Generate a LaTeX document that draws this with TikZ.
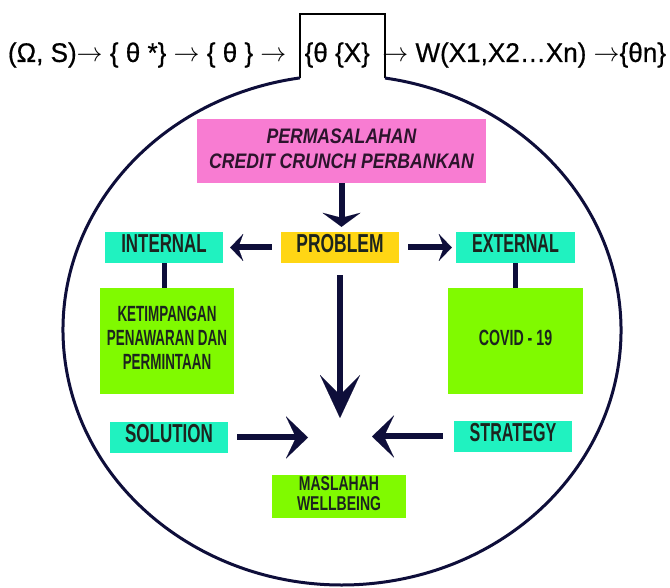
\documentclass[tikz,border=0pt]{standalone}
\usepackage{fontspec}
\setmainfont{Liberation Sans}
\newfontfamily\formulafont[FakeBold=0.6]{Liberation Sans}
\usepackage{graphicx}
\usetikzlibrary{arrows.meta}
\definecolor{navy}{RGB}{14,14,58}
\definecolor{pinkbox}{RGB}{248,124,210}
\definecolor{yelbox}{RGB}{255,214,20}
\definecolor{tealbox}{RGB}{32,242,192}
\definecolor{limebox}{RGB}{128,250,0}
\definecolor{txtdark}{RGB}{28,36,30}
\definecolor{txtpink}{RGB}{44,20,44}
\newcommand{\bxtext}[4]{\scalebox{#1}[1]{\fontsize{#2}{#3}\selectfont\bfseries\begin{tabular}{@{}c@{}}#4\end{tabular}}}
\begin{document}
\begin{tikzpicture}[x=1pt,y=1pt,
  cbox/.style={inner sep=0pt, text=txtdark},
  arrSm/.style={draw=navy, line width=6pt, -{Stealth[length=13pt,width=27pt,inset=5pt,line width=0.01pt]}},
  arrW/.style={draw=navy, line width=6pt, -{Stealth[length=14pt,width=38pt,inset=5pt,line width=0.01pt]}},
  arrM/.style={draw=navy, line width=6pt, -{Stealth[length=22pt,width=42pt,inset=10pt,line width=0.01pt]}},
  arrB/.style={draw=navy, line width=6pt, -{Stealth[length=43pt,width=40pt,inset=20pt,line width=0.01pt]}},
  link/.style={draw=navy, line width=5pt}]
\useasboundingbox (0,0) rectangle (670,587);
\fill[white] (0,0) rectangle (670,587);

% top formula
\node[inner sep=0pt] (formula) at (337,532) {\resizebox{658pt}{19.5pt}{\formulafont\fontsize{25}{25}\selectfont (Ω, S)$\rightarrow$ \{ θ *\} $\rightarrow$ \{ θ \} $\rightarrow$\hspace{0.7em}\{θ \{X\}\hspace{0.2em} $\rightarrow$ W(X1,X2…Xn) $\rightarrow$\{θn\}}};

% neck and bulb
\draw[black, line width=1.5pt] (300,509) -- (300,573) -- (385,573) -- (385,509);
\draw[navy, line width=3pt] (300,509.1) arc[start angle=98.66, end angle=441.13, x radius=279, y radius=255];

% boxes
\node[cbox, fill=pinkbox, text=txtpink, minimum width=289pt, minimum height=64pt] (pink) at (341.5,436)
  {\scalebox{0.84}[1]{\fontsize{21}{25}\selectfont\bfseries\itshape\begin{tabular}{@{}c@{}}PERMASALAHAN\\CREDIT CRUNCH PERBANKAN\end{tabular}}};
\node[cbox, fill=yelbox, minimum width=118pt, minimum height=31pt] (problem) at (340,339.5) {\bxtext{0.67}{26}{26}{PROBLEM}};
\node[cbox, fill=tealbox, minimum width=118pt, minimum height=31pt] (internal) at (164,339.5) {\bxtext{0.65}{26}{26}{INTERNAL}};
\node[cbox, fill=tealbox, minimum width=119pt, minimum height=31pt] (external) at (515.5,339.5) {\bxtext{0.62}{26}{26}{EXTERNAL}};
\node[cbox, fill=limebox, minimum width=134pt, minimum height=106pt] (ket) at (167,246) {\bxtext{0.61}{22}{24}{KETIMPANGAN\\PENAWARAN DAN\\PERMINTAAN}};
\node[cbox, fill=limebox, minimum width=135pt, minimum height=106pt] (covid) at (515.5,246) {\bxtext{0.645}{22}{24}{COVID - 19}};
\node[cbox, fill=tealbox, minimum width=118pt, minimum height=31pt] (solution) at (169,149.5) {\bxtext{0.655}{26}{26}{SOLUTION}};
\node[cbox, fill=tealbox, minimum width=118pt, minimum height=31pt] (strategy) at (513,150.5) {\bxtext{0.62}{26}{26}{STRATEGY}};
\node[cbox, fill=limebox, minimum width=134pt, minimum height=43pt] (maslahah) at (339,90.5) {\bxtext{0.70}{20}{20}{MASLAHAH\\WELLBEING}};

% free ends of arrows
\coordinate (tipB) at (340,169);
\coordinate (tipS) at (308,149.5);
\coordinate (tipT) at (372,150.5);

% connectors
\draw[arrW, shorten >=5pt] (pink.south) -- (pink.south |- problem.north);
\draw[arrSm, shorten <=9pt, shorten >=7pt] (problem.west) -- (internal.east);
\draw[arrSm, shorten <=9pt, shorten >=4pt] (problem.east) -- (external.west);
\draw[arrB, shorten <=12pt] (problem.south) -- (tipB);
\draw[arrM, shorten <=9pt] (solution.east) -- (tipS);
\draw[arrM, shorten <=11pt] (strategy.west) -- (tipT);
\draw[link] (internal.south) -- (internal.south |- ket.north);
\draw[link] (external.south) -- (external.south |- covid.north);
\end{tikzpicture}
\end{document}
